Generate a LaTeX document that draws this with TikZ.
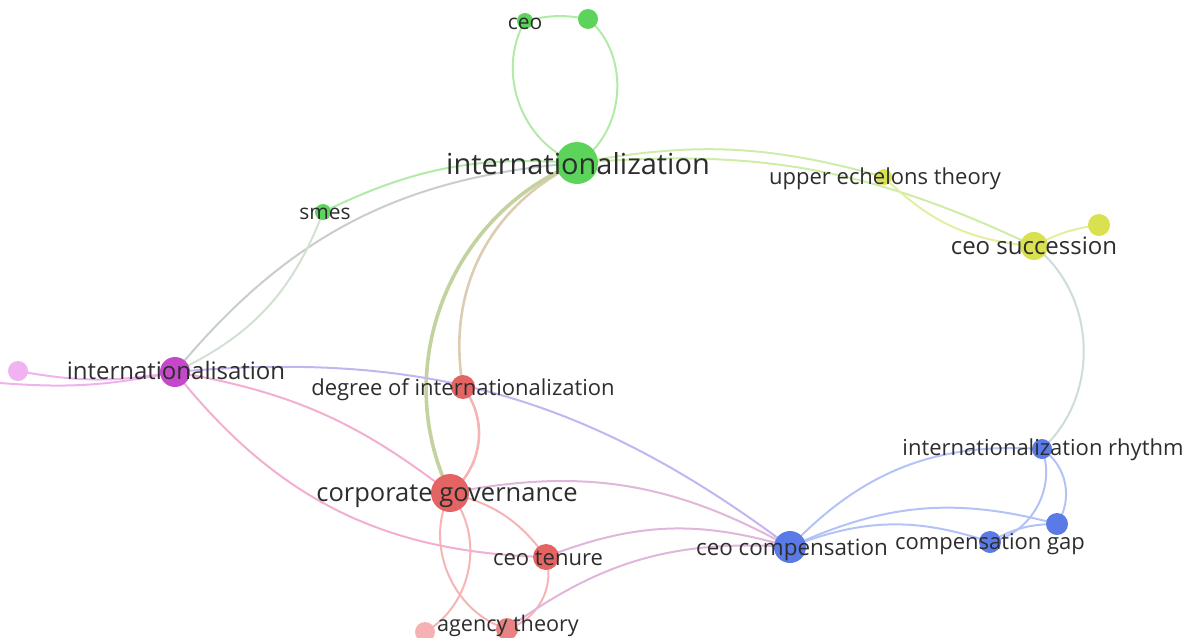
\documentclass[tikz,border=0pt]{standalone}
\usepackage{fontspec}
\setmainfont{Open Sans}
\pgfdeclarelayer{edgelayer}
\pgfsetlayers{edgelayer,main}

% cluster colours
\definecolor{vgreen}{RGB}{92,212,92}
\definecolor{vyel}{RGB}{218,225,80}
\definecolor{vred}{RGB}{228,100,100}
\definecolor{vblue}{RGB}{90,122,232}
\definecolor{vmag}{RGB}{198,72,202}
\definecolor{vpinkl}{RGB}{240,178,240}
\definecolor{vredl}{RGB}{246,178,178}
\definecolor{txtgray}{RGB}{45,45,45}
% link colours
\definecolor{egreen}{RGB}{178,234,168}
\definecolor{eyel}{RGB}{228,238,160}
\definecolor{ered}{RGB}{247,180,180}
\definecolor{eblue}{RGB}{180,195,247}
\definecolor{epink}{RGB}{238,178,238}
\definecolor{egy}{RGB}{205,237,168}
\definecolor{egr}{RGB}{220,205,178}
\definecolor{egr2}{RGB}{195,210,158}
\definecolor{egray}{RGB}{200,205,205}
\definecolor{egp}{RGB}{210,225,210}
\definecolor{eyb}{RGB}{205,220,220}
\definecolor{epb}{RGB}{196,180,242}
\definecolor{epr}{RGB}{242,175,210}
\definecolor{erb}{RGB}{225,182,218}

\tikzset{
  dot/.style={circle, inner sep=0pt, minimum size=#1},
  kw/.style={text=txtgray, inner sep=0pt, font=\fontsize{#1}{#1}\selectfont,
    text height=0.88*#1pt, text depth=0.1*#1pt},
  kw/.default=22,
  lnk/.style={line width=2pt},
}

\begin{document}
\begin{tikzpicture}[x=1pt,y=-1pt]
  \useasboundingbox (0,0) rectangle (1185,637);
  % items
  \node[dot=42pt, fill=vgreen] (intl) at (577,163) {};
  \node[dot=16pt, fill=vgreen] (ceo) at (525,21) {};
  \node[dot=20pt, fill=vgreen] (gtop) at (588,19) {};
  \node[dot=16pt, fill=vgreen] (smes) at (323,212) {};
  \node[dot=16pt, fill=vyel] (uet) at (884,177) {};
  \node[dot=28pt, fill=vyel] (succ) at (1034,246) {};
  \node[dot=22pt, fill=vyel] (ytop) at (1099,225) {};
  \node[dot=30pt, fill=vmag] (intlsa) at (175,372) {};
  \node[dot=20pt, fill=vpinkl] (pfar) at (18,371) {};
  \coordinate (farleft) at (0,383);
  \node[dot=24pt, fill=vred] (degree) at (463,387) {};
  \node[dot=38pt, fill=vred] (cgov) at (450,493) {};
  \node[dot=26pt, fill=vred] (tenure) at (546,557) {};
  \node[dot=22pt, fill=vred!80!white] (agency) at (507,629) {};
  \node[dot=20pt, fill=vredl] (rlight) at (425,632) {};
  \node[dot=32pt, fill=vblue] (comp) at (790,547) {};
  \node[dot=20pt, fill=vblue] (rhythm) at (1042,449) {};
  \node[dot=22pt, fill=vblue] (cgap) at (990,542) {};
  \node[dot=22pt, fill=vblue] (btop) at (1057,524) {};
  % labels
  \node[kw=29] (intl-t) at (578,163) {internationalization};
  \node[kw=21] (ceo-t) at (525,21) {ceo};
  \node[kw=21] (smes-t) at (325,211) {smes};
  \node[kw] (uet-t) at (885,176) {upper echelons theory};
  \node[kw=24] (succ-t) at (1034,245) {ceo succession};
  \node[kw=24] (intlsa-t) at (176,370) {internationalisation};
  \node[kw] (degree-t) at (463,387) {degree of internationalization};
  \node[kw=25.5] (cgov-t) at (447,492) {corporate governance};
  \node[kw] (tenure-t) at (548,557) {ceo tenure};
  \node[kw=21.6] (agency-t) at (508,623) {agency theory};
  \node[kw=22.4] (comp-t) at (792,547) {ceo compensation};
  \node[kw] (rhythm-t) at (1043,447) {internationalization rhythm};
  \node[kw] (cgap-t) at (990,541) {compensation gap};
  % links
  \begin{pgfonlayer}{edgelayer}
    \draw[lnk, egreen] (intl.center) to[bend left=50] (ceo.center);
    \draw[lnk, egreen] (intl.center) to[bend right=55] (gtop.center);
    \draw[lnk, egreen] (ceo.center) to[bend left=12] (gtop.center);
    \draw[lnk, egreen] (intl.center) to[bend right=15] (smes.center);
    \draw[lnk, egray] (intl.center) to[bend right=23] (intlsa.center);
    \draw[lnk, egp] (smes.center) to[bend left=22] (intlsa.center);
    \draw[lnk, egy] (intl.center) to[bend left=13] (uet.center);
    \draw[lnk, egy] (intl.center) to[bend left=15] (succ.center);
    \draw[lnk, eyel] (uet.center) to[bend right=20] (succ.center);
    \draw[lnk, eyel] (succ.center) to[bend left=10] (ytop.center);
    \draw[lnk, eyb] (succ.center) to[bend left=50] (rhythm.center);
    \draw[lnk, egr, line width=2.6pt] (intl.center) to[bend right=37] (degree.center);
    \draw[lnk, egr2, line width=3.6pt] (intl.center) to[bend right=47] (cgov.center);
    \draw[lnk, ered, line width=2.6pt] (degree.center) to[bend left=45] (cgov.center);
    \draw[lnk, epb] (intlsa.center) to[bend left=21] (comp.center);
    \draw[lnk, epr] (intlsa.center) to[bend left=14] (cgov.center);
    \draw[lnk, epr] (intlsa.center) to[bend right=25] (tenure.center);
    \draw[lnk, epink] (pfar.center) to[bend right=10] (intlsa.center);
    \draw[lnk, epink] (farleft) to[bend right=8] (intlsa.center);
    \draw[lnk, erb] (cgov.center) to[bend left=20] (comp.center);
    \draw[lnk, ered] (cgov.center) to[bend left=20] (tenure.center);
    \draw[lnk, ered] (cgov.center) to[bend right=50] (agency.center);
    \draw[lnk, ered] (cgov.center) to[bend left=50] (rlight.center);
    \draw[lnk, ered] (tenure.center) to[bend left=45] (agency.center);
    \draw[lnk, erb] (agency.center) to[bend left=20] (comp.center);
    \draw[lnk, erb] (tenure.center) to[bend left=19] (comp.center);
    \draw[lnk, eblue] (comp.center) to[bend left=25] (rhythm.center);
    \draw[lnk, eblue] (comp.center) to[bend left=20] (cgap.center);
    \draw[lnk, eblue] (comp.center) to[bend left=20] (btop.center);
    \draw[lnk, eblue] (rhythm.center) to[bend left=50] (cgap.center);
    \draw[lnk, eblue] (rhythm.center) to[bend left=45] (btop.center);
    \draw[lnk, eblue] (cgap.center) to[bend left=15] (btop.center);
  \end{pgfonlayer}
\end{tikzpicture}
\end{document}
